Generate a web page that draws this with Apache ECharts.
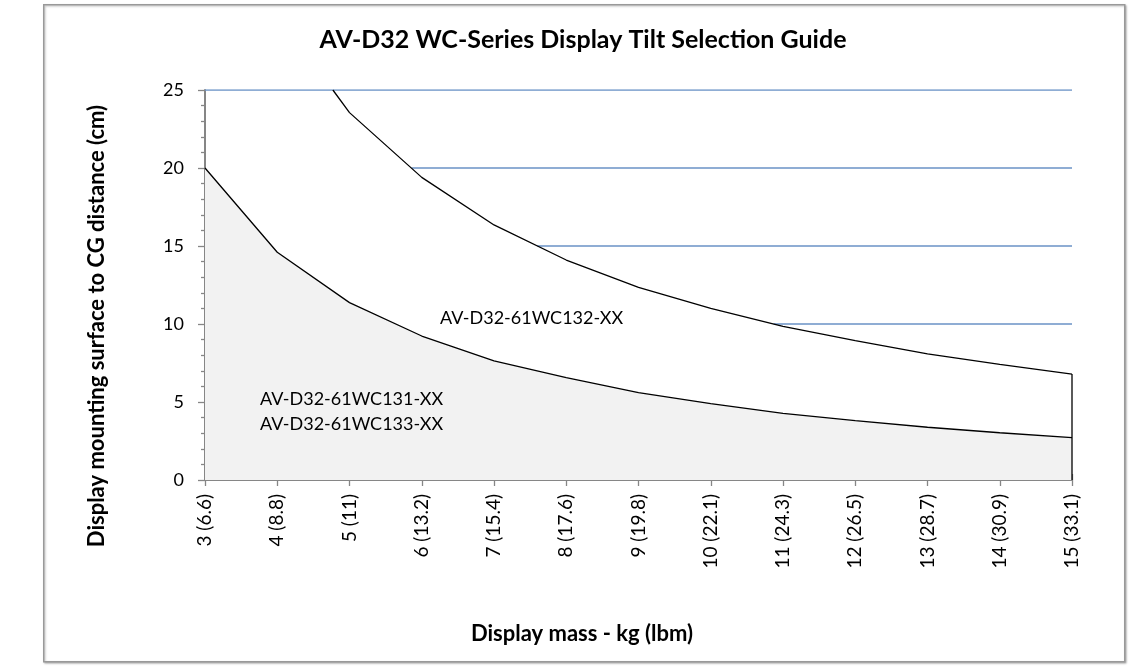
<!DOCTYPE html>
<html>
<head>
<meta charset="utf-8">
<script src="https://cdn.jsdelivr.net/npm/echarts@6/dist/echarts.min.js"></script>
<style>
html,body{margin:0;padding:0;background:#fff;}
#chart{width:1147px;height:668px;}
</style>
</head>
<body>
<div id="chart"></div>
<script>
// ---- data ----
const massKg = [3, 4, 5, 6, 7, 8, 9, 10, 11, 12, 13, 14, 15];
const massLbm = ['6.6', '8.8', '11', '13.2', '15.4', '17.6', '19.8', '22.1', '24.3', '26.5', '28.7', '30.9', '33.1'];
const lowerLimit = [20.0, 14.6, 11.37, 9.23, 7.63, 6.56, 5.6, 4.9, 4.27, 3.8, 3.38, 3.03, 2.71];
const upperX = [4.77, 5, 6, 7, 8, 9, 10, 11, 12, 13, 14, 15];
const upperLimit = [25.0, 23.55, 19.4, 16.35, 14.1, 12.35, 11.0, 9.85, 8.93, 8.08, 7.41, 6.79];
const guideLevels = [25, 20, 15, 10];
const guideStartKg = [3, 5.86, 7.6, 10.87];
const guideEndKg = 15;
const regionLabels = ['AV-D32-61WC132-XX', 'AV-D32-61WC131-XX', 'AV-D32-61WC133-XX'];
const chartTitle = 'AV-D32 WC-Series Display Tilt Selection Guide';
const xTitle = 'Display mass - kg (lbm)';
const yTitle = 'Display mounting surface to CG distance (cm)';

const FONT = 'Lato, "Liberation Sans", sans-serif';
const chart = echarts.init(document.getElementById('chart'), null, {renderer: 'canvas'});

const lowerData = massKg.map((x, i) => [x, lowerLimit[i]]);
const upperData = upperX.map((x, i) => [x, upperLimit[i]]);
const series = [
  {
    type: 'line', data: lowerData, symbol: 'none', silent: true, z: 2,
    lineStyle: {color: '#000', width: 1.3},
    areaStyle: {color: '#f2f2f2', opacity: 1}
  },
  {
    type: 'line', data: upperData, symbol: 'none', silent: true, z: 3,
    lineStyle: {color: '#000', width: 1.3}
  },
  {
    type: 'line', symbol: 'none', silent: true, z: 3,
    data: [[guideEndKg, 0], [guideEndKg, upperLimit[upperLimit.length - 1]]],
    lineStyle: {color: '#000', width: 1.3}
  }
];
guideLevels.forEach((lv, i) => {
  series.push({
    type: 'line', symbol: 'none', silent: true, z: 1,
    data: [[guideStartKg[i], lv], [guideEndKg, lv]],
    lineStyle: {color: '#6a92c6', width: 1.5}
  });
});

const option = {
  animation: false,
  backgroundColor: '#fff',
  grid: {left: 205, right: 75, top: 90, bottom: 188, containLabel: false},
  xAxis: [{
    type: 'value', min: 3, max: 15, interval: 1,
    axisLine: {show: true, onZero: false, lineStyle: {color: '#868686', width: 2}},
    axisTick: {show: true, length: 6, lineStyle: {color: '#868686', width: 1.3}},
    splitLine: {show: false},
    axisLabel: {
      rotate: 90, fontFamily: FONT, fontSize: 19, color: '#000', margin: 14,
      formatter: v => { const i = massKg.indexOf(v); return i < 0 ? '' : massKg[i] + ' (' + massLbm[i] + ')'; }
    }
  }, {
    type: 'value', min: 3, max: 15, interval: 1, position: 'bottom',
    axisLine: {show: false}, axisLabel: {show: false}, splitLine: {show: false},
    axisTick: {show: true, inside: true, length: 6, lineStyle: {color: '#868686', width: 1.3}}
  }],
  yAxis: {
    type: 'value', min: 0, max: 25, interval: 5,
    axisLine: {show: true, lineStyle: {color: '#868686', width: 2}},
    axisTick: {show: true, length: 7, lineStyle: {color: '#868686', width: 1.3}},
    minorTick: {show: true, splitNumber: 5, length: 4, lineStyle: {color: '#868686', width: 1.3}},
    splitLine: {show: false},
    axisLabel: {fontFamily: FONT, fontSize: 18, color: '#000', margin: 21}
  },
  graphic: [
    {type: 'rect', left: 43, top: 4, shape: {width: 1081, height: 657}, z: -10,
     style: {fill: '#fff', stroke: '#999', lineWidth: 1.5, shadowColor: 'rgba(0,0,0,0.25)', shadowBlur: 2, shadowOffsetX: 1, shadowOffsetY: 1}},
    {type: 'text', x: 583, y: 40, z: 10,
     style: {text: chartTitle, font: 'bold 25px ' + FONT, fill: '#000', align: 'center', verticalAlign: 'middle'}},
    {type: 'text', x: 582, y: 634, z: 10,
     style: {text: xTitle, font: 'bold 22px ' + FONT, fill: '#000', align: 'center', verticalAlign: 'middle'}},
    {type: 'text', x: 97, y: 326, rotation: Math.PI / 2, z: 10,
     style: {text: yTitle, font: 'bold 22px ' + FONT, fill: '#000', align: 'center', verticalAlign: 'middle'}},
    {type: 'text', x: 440, y: 318, z: 10,
     style: {text: regionLabels[0], font: '18px ' + FONT, fill: '#000', verticalAlign: 'middle'}},
    {type: 'text', x: 260, y: 399, z: 10,
     style: {text: regionLabels[1], font: '18px ' + FONT, fill: '#000', verticalAlign: 'middle'}},
    {type: 'text', x: 260, y: 424, z: 10,
     style: {text: regionLabels[2], font: '18px ' + FONT, fill: '#000', verticalAlign: 'middle'}}
  ],
  series: series
};
chart.setOption(option);
</script>
</body>
</html>
